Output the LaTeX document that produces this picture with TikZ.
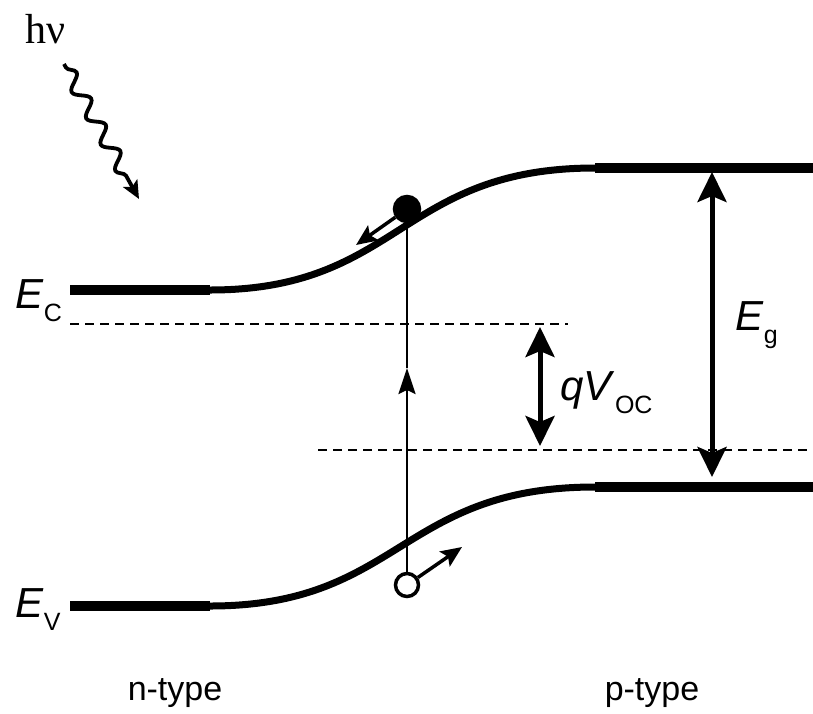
\documentclass[tikz,border=0pt]{standalone}
\usepackage{fontspec}
\setmainfont{Liberation Sans}
\newfontfamily\photonfont{Liberation Serif}
\usetikzlibrary{arrows.meta, positioning, decorations.pathmorphing}

\newcommand{\lvlsub}[1]{\raisebox{-0.33em}{\fontsize{25}{25}\selectfont #1}}

\begin{document}
\begin{tikzpicture}[x=1pt, y=-1pt, thick]
    \tikzstyle{band} = [line width=7pt, line cap=butt]
    \tikzstyle{flat} = [line width=10.5pt]
    \tikzstyle{level} = [dashed, line width=2.6pt, dash pattern=on 9pt off 6pt]
    \tikzstyle{carrier} = [circle, draw, line width=3.5pt, inner sep=0pt]
    \tikzstyle{move} = [line width=3.5pt, -{Stealth[length=21pt, width=18pt, inset=4pt]}]
    \tikzstyle{gap} = [line width=5pt, {Stealth[length=30pt, width=29pt, inset=6pt]}-{Stealth[length=30pt, width=29pt, inset=6pt]}]
    \tikzstyle{label} = [inner sep=0pt, anchor=base west, font=\fontsize{42}{42}\selectfont]

    \useasboundingbox (0,0) rectangle (813,713);

    % Bands
    \draw [flat] (70,290) -- (210,290);
    \draw [band] (210,290) .. controls (400,290) and (400,168) .. (595,168);
    \draw [flat] (595,168) -- (813,168);
    \draw [flat] (70,606) -- (210,606);
    \draw [band] (210,606) .. controls (400,606) and (400,487) .. (595,487);
    \draw [flat] (595,487) -- (813,487);

    % Quasi-Fermi levels
    \draw [level] (70,324) -- (568,324);
    \draw [level] (318,450) -- (813,450);

    % Nodes
    \node [carrier, fill=black, minimum size=25pt] (elec) at (407,209) {};
    \node [carrier, fill=white, minimum size=23pt] (hole) at (407,585) {};
    \coordinate (mid) at (407,368);
    \coordinate (elecend) at (356,245);
    \coordinate (holeend) at (462,547);
    \coordinate (qtop) at (540,327);
    \coordinate (qbot) at (540,446);
    \coordinate (gtop) at (712,172);
    \coordinate (gbot) at (712,477);
    \coordinate (photon) at (64,64);
    \coordinate (photonend) at (139,199);

    \node [label] (ec) at (15,308) {\textit{E}\lvlsub{C}};
    \node [label] (ev) at (15,617) {\textit{E}\lvlsub{V}};
    \node [label] (eg) at (735,330) {\textit{E}\lvlsub{g}};
    \node [label] (voc) at (560,400) {\textit{qV}\lvlsub{OC}};
    \node [inner sep=0pt, anchor=base, font=\fontsize{34}{34}\selectfont] (ntype) at (175,700) {n-type};
    \node [inner sep=0pt, anchor=base, font=\fontsize{34}{34}\selectfont] (ptype) at (652,700) {p-type};
    \node [inner sep=0pt, anchor=base west, font=\photonfont\fontsize{42}{42}\selectfont] (hnu) at (25,43) {hν};

    % Connections
    \draw [line width=2.6pt, -{Stealth[length=26pt, width=17pt, inset=4pt]}] (hole) -- (mid);
    \draw [line width=2.6pt] (mid) -- (elec);
    \draw [move] (elec) -- (elecend);
    \draw [move] (hole) -- (holeend);
    \draw [gap] (qtop) -- (qbot);
    \draw [gap] (gtop) -- (gbot);
    \draw [line width=3.8pt, -{Stealth[length=18pt, width=16pt, inset=4pt]}, decorate, decoration={snake, amplitude=7pt, segment length=30pt, pre length=4pt, post length=16pt}] (photon) -- (photonend);
\end{tikzpicture}
\end{document}
